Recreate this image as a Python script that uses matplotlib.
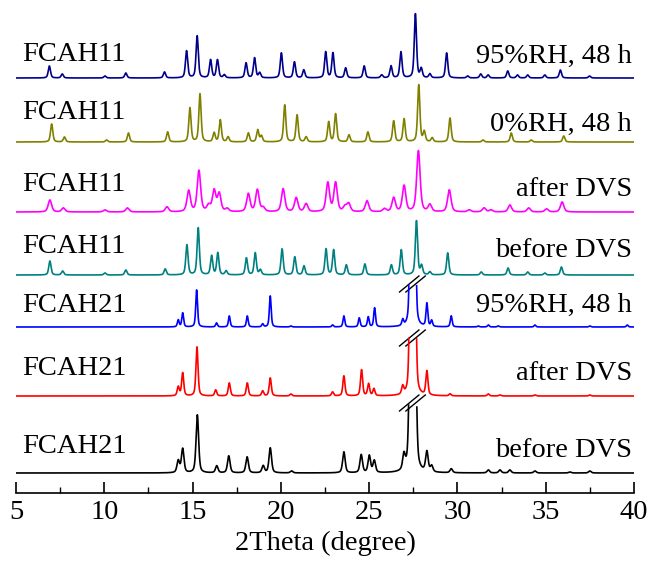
import numpy as np
import matplotlib
matplotlib.use("Agg")
import matplotlib.pyplot as plt

plt.rcParams['font.family'] = ['Liberation Serif', 'DejaVu Serif']

# peak positions (2theta, degree) and heights (a.u.)
fcah11_95rh_pos = [6.89, 7.62, 10.04, 11.22, 13.41, 14.66, 15.26, 16.02, 16.41, 16.80, 18.03, 18.51, 18.80,
                   20.03, 20.77, 21.30, 22.54, 22.95, 23.67, 24.72, 25.71, 26.24, 26.80, 27.62, 27.95, 28.44,
                   29.39, 30.58, 31.32, 31.74, 32.85, 33.40, 33.98, 34.95, 35.83, 37.48]
fcah11_95rh_int = [12, 4, 2, 5, 6, 27, 42, 18, 18, 3, 15, 20, 5,
                   25, 16, 8, 26, 25, 10, 12, 3, 12, 26, 64, 9, 4,
                   25, 2, 4, 3, 7, 3, 3, 3, 8, 2]

fcah11_0rh_pos = [7.02, 7.74, 10.13, 11.37, 13.59, 14.85, 15.42, 16.22, 16.57, 17.01, 18.16, 18.69, 18.90,
                  20.22, 20.92, 21.43, 22.71, 23.10, 23.86, 24.93, 26.39, 26.98, 27.81, 28.12, 28.57,
                  29.58, 31.45, 33.05, 34.18, 36.02]
fcah11_0rh_int = [18, 5, 2, 9, 10, 34, 48, 9, 22, 5, 9, 12, 6,
                  37, 27, 5, 20, 28, 7, 10, 21, 23, 57, 10, 4,
                  24, 2, 9, 2, 6]

fcah11_after_pos = [6.92, 7.68, 10.04, 11.31, 13.55, 14.78, 15.36, 15.91, 16.22, 16.51, 16.96, 18.16, 18.67,
                    19.00, 20.13, 20.87, 21.43, 22.66, 23.10, 23.63, 23.84, 24.88, 25.87, 26.39, 26.98,
                    27.79, 28.44, 29.54, 30.67, 31.51, 31.90, 32.97, 34.04, 35.05, 35.93]
fcah11_after_int = [12, 4, 2, 4, 5, 21, 41, 6, 21, 18, 3, 18, 22,
                    4, 23, 14, 8, 29, 29, 5, 8, 11, 3, 14, 26,
                    61, 7, 22, 2, 4, 2, 7, 4, 3, 10]

fcah11_before_pos = [6.92, 7.64, 10.04, 11.22, 13.45, 14.68, 15.32, 16.08, 16.43, 16.90, 18.05, 18.55, 18.84,
                     20.07, 20.79, 21.31, 22.56, 22.99, 23.71, 24.76, 26.26, 26.82, 27.68, 27.97, 28.44,
                     29.45, 31.35, 32.87, 33.98, 34.95, 35.89]
fcah11_before_int = [14, 4, 2, 5, 6, 30, 47, 19, 22, 4, 17, 22, 5,
                     26, 18, 9, 26, 25, 10, 11, 10, 25, 54, 9, 3,
                     22, 3, 7, 3, 2, 8]

fcah21_95rh_pos = [14.19, 14.44, 15.23, 16.36, 17.08, 18.10, 18.97, 19.40, 20.57, 22.93, 23.57, 24.44, 24.95,
                   25.31, 26.90, 27.35, 27.59, 28.27, 28.54, 29.65, 31.18, 31.75, 32.31, 34.39, 37.50, 39.62]
fcah21_95rh_int = [7, 14, 37, 4, 11, 11, 3, 31, 1, 2, 11, 9, 10,
                   19, 6, 200, 180, 23, 6, 11, 1, 2, 1, 2, 1, 2]

fcah21_after_pos = [14.19, 14.44, 15.25, 16.31, 17.08, 18.10, 18.97, 19.40, 20.57, 22.93, 23.57, 24.57, 24.97,
                    25.27, 26.90, 27.35, 27.59, 28.27, 29.58, 31.75, 32.41, 34.39, 37.50]
fcah21_after_int = [9, 23, 49, 6, 13, 13, 5, 18, 2, 4, 20, 26, 12,
                    7, 8, 200, 180, 24, 2, 2, 1, 1, 1]

fcah21_before_pos = [14.19, 14.44, 15.27, 16.37, 17.05, 18.09, 19.00, 19.40, 20.61, 23.57, 24.55, 25.01, 25.29,
                     26.97, 27.35, 27.59, 28.27, 28.54, 29.65, 31.75, 32.41, 32.97, 34.39, 36.37, 37.50]
fcah21_before_int = [12, 24, 58, 7, 17, 16, 7, 25, 2, 21, 18, 17, 12,
                     15, 200, 180, 20, 6, 4, 3, 3, 3, 2, 1, 2]

left_labels = ["FCAH11", "FCAH11", "FCAH11", "FCAH11", "FCAH21", "FCAH21", "FCAH21"]
right_labels = ["95%RH, 48 h", "0%RH, 48 h", "after DVS", "before DVS",
                "95%RH, 48 h", "after DVS", "before DVS"]

# top to bottom: (positions, heights, colour, peak width, offset, break level or None)
patterns = [
    (fcah11_95rh_pos, fcah11_95rh_int, "#00008B", 0.15, 415, None),
    (fcah11_0rh_pos, fcah11_0rh_int, "#808000", 0.15, 351, None),
    (fcah11_after_pos, fcah11_after_int, "#FF00FF", 0.23, 281, None),
    (fcah11_before_pos, fcah11_before_int, "#008080", 0.15, 218, None),
    (fcah21_95rh_pos, fcah21_95rh_int, "#0000FF", 0.12, 166, 43),
    (fcah21_after_pos, fcah21_after_int, "#FF0000", 0.14, 97, 58),
    (fcah21_before_pos, fcah21_before_int, "#000000", 0.17, 20, 70),
]
left_y = [432, 374, 302, 240, 181, 118, 40]
right_y = [430, 362, 297, 236, 181, 113, 36]

x = np.linspace(5, 40, 8001)


def pattern(pos, hts, w):
    y = np.zeros_like(x)
    for p, h in zip(pos, hts):
        d = (x - p) / (w / 2)
        y += h * (0.5 / (1 + d ** 2) + 0.5 * np.exp(-np.log(2) * d ** 2))
    return y


fig = plt.figure(figsize=(6.49, 5.61), dpi=100)
ax = fig.add_axes([16 / 649, 68 / 561, 618 / 649, 493 / 561])

for i, (pos, hts, col, w, off, cap) in enumerate(patterns):
    y = pattern(pos, hts, w)
    if cap is not None:
        y = np.where(y > cap, np.nan, y)
        # break marks "//" over the cut peak
        xb = 27.45
        for sh in (-0.18, 0.18):
            ax.plot([xb + sh - 0.55, xb + sh + 0.55], [off + cap - 8, off + cap + 8],
                    color="black", lw=1.0, clip_on=False)
    ax.plot(x, y + off, color=col, lw=1.2)
    ax.text(5.34, left_y[i], left_labels[i], fontsize=20.5, ha="left", va="baseline")
    ax.text(39.9, right_y[i], right_labels[i], fontsize=20.5, ha="right", va="baseline")

ax.set_xlim(5, 40)
ax.set_ylim(0, 493)
ax.set_xticks(np.arange(5, 41, 5))
ax.set_xticks(np.arange(5, 40, 2.5), minor=True)
ax.set_yticks([])
for s in ["left", "right", "top"]:
    ax.spines[s].set_visible(False)
ax.spines["bottom"].set_linewidth(1.2)
ax.tick_params(axis="x", which="major", direction="in", length=8, width=1.2, labelsize=20.5, pad=5)
ax.tick_params(axis="x", which="minor", direction="in", length=4, width=1.0)
ax.set_xlabel("2Theta (degree)", fontsize=20.5, labelpad=4)
ax.patch.set_alpha(0)

fig.savefig("out.png", dpi=100)
